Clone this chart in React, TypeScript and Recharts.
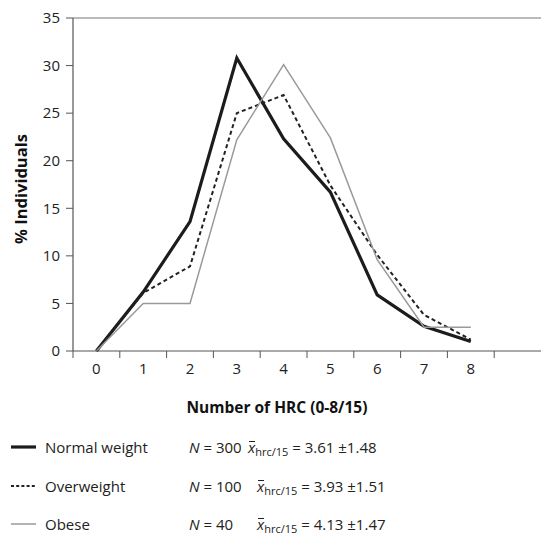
import React from 'react';
import { LineChart, Line, XAxis, YAxis, ReferenceLine } from 'recharts';

// HRC counts (x) and % of individuals for each weight group
const categories = [0, 1, 2, 3, 4, 5, 6, 7, 8];
const normalWeight = [0, 6.2, 13.6, 30.8, 22.3, 16.7, 5.9, 2.6, 1.0];
const overweight = [0, 6.1, 8.9, 25.0, 26.9, 17.4, 10.1, 3.8, 1.2];
const obese = [0, 5.0, 5.0, 22.2, 30.1, 22.4, 9.6, 2.5, 2.5];

const yTicks = [0, 5, 10, 15, 20, 25, 30, 35];
// labels at integers, tick marks at half steps
const xTicks = [-0.5, 0, 0.5, 1, 1.5, 2, 2.5, 3, 3.5, 4, 4.5, 5, 5.5, 6, 6.5, 7, 7.5, 8, 8.5];

const groupNames = ['Normal weight', 'Overweight', 'Obese'];
const groupN = [300, 100, 40];
const groupMean = ['3.61', '3.93', '4.13'];
const groupSd = ['1.48', '1.51', '1.47'];

const FONT = '"Open Sans", sans-serif';

const lineStyles = [
  { key: 'normal', stroke: '#1c1c1c', width: 3.2, dash: undefined as string | undefined },
  { key: 'over', stroke: '#222222', width: 2, dash: '4 3' },
  { key: 'obese', stroke: '#9a9a9a', width: 1.5, dash: undefined },
];

const data = categories.map((c, i) => ({
  x: c,
  normal: normalWeight[i],
  over: overweight[i],
  obese: obese[i],
}));

const XTick = (props: any) => {
  const { x, y, payload } = props;
  const v = payload.value as number;
  if (Number.isInteger(v)) {
    return (
      <text x={x} y={y} dy="0.9em" textAnchor="middle" fill="#222" fontSize={15} fontFamily={FONT}>
        {v}
      </text>
    );
  }
  return <line x1={x} y1={y - 9} x2={x} y2={y - 2} stroke="#555" strokeWidth={1} />;
};

const xbarRowLeft = [248, 257, 257];

export default function App() {
  return (
    <div style={{ position: 'absolute', left: 0, top: 0, width: 541, height: 536, background: '#fff', fontFamily: FONT }}>
      <LineChart width={541} height={536} data={data} margin={{ top: 18, right: 0, left: 0, bottom: 155 }}>
        <XAxis
          dataKey="x"
          type="number"
          domain={[-0.5, 9.5]}
          ticks={xTicks}
          interval={0}
          height={30}
          tickLine={false}
          tickSize={7}
          tickMargin={2}
          tick={<XTick />}
          axisLine={{ stroke: '#555', strokeWidth: 1.2 }}
          label={{
            content: () => (
              <text x={277} y={413} textAnchor="middle" fontWeight="bold" fontSize={15.5} fill="#111" fontFamily={FONT}>
                Number of HRC (0-8/15)
              </text>
            ),
          }}
        />
        <YAxis
          type="number"
          domain={[0, 35]}
          ticks={yTicks}
          interval={0}
          width={73}
          tickSize={7}
          tickMargin={6}
          tick={{ fill: '#222', fontSize: 15, fontFamily: FONT }}
          tickLine={{ stroke: '#555' }}
          axisLine={{ stroke: '#555', strokeWidth: 1.2 }}
          label={{
            content: () => (
              <text
                x={20}
                y={189}
                transform="rotate(-90 20 189)"
                textAnchor="middle"
                dominantBaseline="central"
                fontWeight="bold"
                fontSize={16.5}
                fill="#111"
                fontFamily={FONT}
              >
                % Individuals
              </text>
            ),
          }}
        />
        <ReferenceLine y={35} stroke="#777" strokeWidth={1.2} />
        {lineStyles.map((s) => (
          <Line
            key={s.key}
            dataKey={s.key}
            type="linear"
            stroke={s.stroke}
            strokeWidth={s.width}
            strokeDasharray={s.dash}
            dot={false}
            activeDot={false}
            isAnimationActive={false}
          />
        ))}
      </LineChart>

      {/* legend */}
      {groupNames.map((name, i) => {
        const top = 436 + i * 38.5;
        const s = lineStyles[i];
        return (
          <div key={name} style={{ position: 'absolute', left: 0, top, height: 24, width: 541, fontSize: 15, color: '#222' }}>
            <svg width={30} height={24} style={{ position: 'absolute', left: 8, top: 0 }}>
              <line
                x1={3}
                y1={11}
                x2={28}
                y2={11}
                stroke={s.stroke}
                strokeWidth={s.width}
                strokeDasharray={s.dash === undefined ? undefined : '3 2.2'}
              />
            </svg>
            <span style={{ position: 'absolute', left: 45, top: 0, lineHeight: '22px' }}>{name}</span>
            <span style={{ position: 'absolute', left: 189, top: 0, lineHeight: '22px' }}>
              <i>N</i> = {groupN[i]}
            </span>
            <span style={{ position: 'absolute', left: xbarRowLeft[i], top: 0, lineHeight: '22px', whiteSpace: 'nowrap' }}>
              <span style={{ position: 'relative', display: 'inline-block' }}>
                <i>x</i>
                <span style={{ position: 'absolute', left: 1, right: 0, top: 5, borderTop: '1px solid #222' }} />
              </span>
              <span style={{ fontSize: 11, verticalAlign: '-3px', lineHeight: '11px' }}>hrc/15</span> = {groupMean[i]} ±{groupSd[i]}
            </span>
          </div>
        );
      })}
    </div>
  );
}
